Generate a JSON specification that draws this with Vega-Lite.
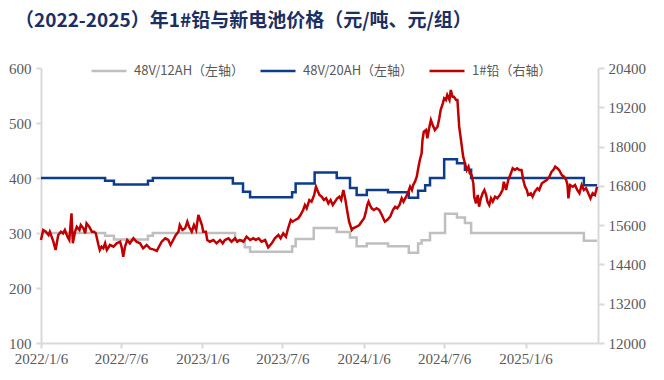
{
  "$schema": "https://vega.github.io/schema/vega-lite/v6.json",
  "width": 557,
  "height": 275,
  "autosize": {"type": "none"},
  "padding": {"left": 41, "top": 68, "right": 66, "bottom": 37},
  "background": "white",
  "title": {
    "text": "（2022-2025）年1#铅与新电池价格（元/吨、元/组）",
    "anchor": "start",
    "frame": "group",
    "dx": -26,
    "offset": 21,
    "font": "Noto Sans CJK SC",
    "fontSize": 19,
    "fontWeight": "bold",
    "color": "#1B2F63"
  },
  "config": {
    "view": {"stroke": null},
    "axis": {
      "grid": false,
      "domainColor": "#D9D9D9",
      "domainWidth": 2,
      "tickColor": "#D9D9D9",
      "tickWidth": 2,
      "labelFont": "Liberation Serif",
      "labelFontSize": 15,
      "labelColor": "#595959",
      "title": null
    }
  },
  "datasets": {
    "battery": [
      {"date": "2022-01-06", "series": "48V/12AH（左轴）", "price": 300},
      {"date": "2022-05-31", "series": "48V/12AH（左轴）", "price": 295},
      {"date": "2022-06-20", "series": "48V/12AH（左轴）", "price": 288},
      {"date": "2022-09-05", "series": "48V/12AH（左轴）", "price": 295},
      {"date": "2022-09-16", "series": "48V/12AH（左轴）", "price": 300},
      {"date": "2023-03-21", "series": "48V/12AH（左轴）", "price": 287},
      {"date": "2023-04-12", "series": "48V/12AH（左轴）", "price": 274},
      {"date": "2023-04-24", "series": "48V/12AH（左轴）", "price": 266},
      {"date": "2023-07-28", "series": "48V/12AH（左轴）", "price": 276},
      {"date": "2023-08-05", "series": "48V/12AH（左轴）", "price": 289},
      {"date": "2023-09-15", "series": "48V/12AH（左轴）", "price": 309},
      {"date": "2023-11-06", "series": "48V/12AH（左轴）", "price": 302},
      {"date": "2023-12-06", "series": "48V/12AH（左轴）", "price": 292},
      {"date": "2023-12-21", "series": "48V/12AH（左轴）", "price": 276},
      {"date": "2024-01-13", "series": "48V/12AH（左轴）", "price": 281},
      {"date": "2024-03-01", "series": "48V/12AH（左轴）", "price": 276},
      {"date": "2024-04-17", "series": "48V/12AH（左轴）", "price": 264},
      {"date": "2024-05-08", "series": "48V/12AH（左轴）", "price": 281},
      {"date": "2024-05-16", "series": "48V/12AH（左轴）", "price": 287},
      {"date": "2024-06-04", "series": "48V/12AH（左轴）", "price": 300},
      {"date": "2024-07-08", "series": "48V/12AH（左轴）", "price": 335},
      {"date": "2024-08-04", "series": "48V/12AH（左轴）", "price": 328},
      {"date": "2024-08-22", "series": "48V/12AH（左轴）", "price": 318},
      {"date": "2024-09-05", "series": "48V/12AH（左轴）", "price": 300},
      {"date": "2025-05-18", "series": "48V/12AH（左轴）", "price": 286},
      {"date": "2025-06-17", "series": "48V/12AH（左轴）", "price": 286},
      {"date": "2022-01-06", "series": "48V/20AH（左轴）", "price": 400},
      {"date": "2022-05-31", "series": "48V/20AH（左轴）", "price": 395},
      {"date": "2022-06-20", "series": "48V/20AH（左轴）", "price": 388},
      {"date": "2022-09-05", "series": "48V/20AH（左轴）", "price": 395},
      {"date": "2022-09-16", "series": "48V/20AH（左轴）", "price": 400},
      {"date": "2023-03-16", "series": "48V/20AH（左轴）", "price": 390},
      {"date": "2023-04-08", "series": "48V/20AH（左轴）", "price": 375},
      {"date": "2023-04-24", "series": "48V/20AH（左轴）", "price": 365},
      {"date": "2023-07-28", "series": "48V/20AH（左轴）", "price": 374},
      {"date": "2023-08-05", "series": "48V/20AH（左轴）", "price": 390},
      {"date": "2023-09-17", "series": "48V/20AH（左轴）", "price": 410},
      {"date": "2023-11-06", "series": "48V/20AH（左轴）", "price": 400},
      {"date": "2023-12-06", "series": "48V/20AH（左轴）", "price": 382},
      {"date": "2023-12-21", "series": "48V/20AH（左轴）", "price": 369},
      {"date": "2024-01-13", "series": "48V/20AH（左轴）", "price": 378},
      {"date": "2024-03-01", "series": "48V/20AH（左轴）", "price": 374},
      {"date": "2024-04-17", "series": "48V/20AH（左轴）", "price": 364},
      {"date": "2024-05-08", "series": "48V/20AH（左轴）", "price": 377},
      {"date": "2024-05-24", "series": "48V/20AH（左轴）", "price": 387},
      {"date": "2024-06-04", "series": "48V/20AH（左轴）", "price": 400},
      {"date": "2024-07-06", "series": "48V/20AH（左轴）", "price": 434},
      {"date": "2024-08-04", "series": "48V/20AH（左轴）", "price": 427},
      {"date": "2024-08-22", "series": "48V/20AH（左轴）", "price": 415},
      {"date": "2024-09-05", "series": "48V/20AH（左轴）", "price": 400},
      {"date": "2025-05-18", "series": "48V/20AH（左轴）", "price": 387},
      {"date": "2025-06-17", "series": "48V/20AH（左轴）", "price": 387}
    ],
    "lead": [
      {"date": "2022-01-06", "price": 15146}, {"date": "2022-01-11", "price": 15452}, {"date": "2022-01-17", "price": 15400},
      {"date": "2022-01-23", "price": 15299}, {"date": "2022-01-26", "price": 15400}, {"date": "2022-02-03", "price": 15094},
      {"date": "2022-02-08", "price": 14841}, {"date": "2022-02-14", "price": 15299}, {"date": "2022-02-20", "price": 15400},
      {"date": "2022-02-25", "price": 15351}, {"date": "2022-03-01", "price": 15452}, {"date": "2022-03-07", "price": 15247},
      {"date": "2022-03-11", "price": 15146}, {"date": "2022-03-16", "price": 15962}, {"date": "2022-03-19", "price": 15045},
      {"date": "2022-03-24", "price": 15400}, {"date": "2022-03-28", "price": 15552}, {"date": "2022-04-03", "price": 15452},
      {"date": "2022-04-06", "price": 15604}, {"date": "2022-04-12", "price": 15504}, {"date": "2022-04-16", "price": 15351},
      {"date": "2022-04-19", "price": 15656}, {"date": "2022-04-25", "price": 15552}, {"date": "2022-05-01", "price": 15400},
      {"date": "2022-05-06", "price": 15400}, {"date": "2022-05-10", "price": 15351}, {"date": "2022-05-16", "price": 14994},
      {"date": "2022-05-19", "price": 14841}, {"date": "2022-05-23", "price": 14942}, {"date": "2022-05-27", "price": 14893},
      {"date": "2022-05-31", "price": 15045}, {"date": "2022-06-04", "price": 14841}, {"date": "2022-06-11", "price": 14994},
      {"date": "2022-06-19", "price": 14942}, {"date": "2022-06-26", "price": 15045}, {"date": "2022-07-04", "price": 15094},
      {"date": "2022-07-08", "price": 14893}, {"date": "2022-07-11", "price": 14636}, {"date": "2022-07-15", "price": 14942},
      {"date": "2022-07-20", "price": 15146}, {"date": "2022-07-26", "price": 15045}, {"date": "2022-08-03", "price": 15198},
      {"date": "2022-08-10", "price": 15094}, {"date": "2022-08-18", "price": 15045}, {"date": "2022-08-25", "price": 14893},
      {"date": "2022-09-02", "price": 14994}, {"date": "2022-09-10", "price": 14880}, {"date": "2022-09-17", "price": 14860},
      {"date": "2022-09-25", "price": 14815}, {"date": "2022-09-28", "price": 14893}, {"date": "2022-10-06", "price": 15094},
      {"date": "2022-10-14", "price": 15198}, {"date": "2022-10-21", "price": 15146}, {"date": "2022-10-26", "price": 14994},
      {"date": "2022-11-01", "price": 15146}, {"date": "2022-11-07", "price": 15299}, {"date": "2022-11-13", "price": 15400},
      {"date": "2022-11-16", "price": 15604}, {"date": "2022-11-22", "price": 15452}, {"date": "2022-11-28", "price": 15504},
      {"date": "2022-12-03", "price": 15705}, {"date": "2022-12-07", "price": 15552}, {"date": "2022-12-13", "price": 15400},
      {"date": "2022-12-18", "price": 15604}, {"date": "2022-12-23", "price": 15452}, {"date": "2022-12-28", "price": 15910},
      {"date": "2023-01-01", "price": 15757}, {"date": "2023-01-05", "price": 15604}, {"date": "2023-01-08", "price": 15400},
      {"date": "2023-01-14", "price": 15400}, {"date": "2023-01-17", "price": 15146}, {"date": "2023-01-23", "price": 15094},
      {"date": "2023-01-31", "price": 15146}, {"date": "2023-02-07", "price": 15045}, {"date": "2023-02-15", "price": 15146},
      {"date": "2023-02-21", "price": 15045}, {"date": "2023-02-26", "price": 15146}, {"date": "2023-03-06", "price": 15198},
      {"date": "2023-03-13", "price": 15094}, {"date": "2023-03-21", "price": 15198}, {"date": "2023-03-26", "price": 15094},
      {"date": "2023-04-01", "price": 15146}, {"date": "2023-04-09", "price": 15094}, {"date": "2023-04-16", "price": 15247},
      {"date": "2023-04-24", "price": 15146}, {"date": "2023-05-01", "price": 15198}, {"date": "2023-05-07", "price": 15146},
      {"date": "2023-05-13", "price": 15198}, {"date": "2023-05-20", "price": 15094}, {"date": "2023-05-28", "price": 15146},
      {"date": "2023-06-04", "price": 14920}, {"date": "2023-06-12", "price": 15045}, {"date": "2023-06-19", "price": 15198},
      {"date": "2023-06-27", "price": 15299}, {"date": "2023-07-02", "price": 15198}, {"date": "2023-07-08", "price": 15351},
      {"date": "2023-07-14", "price": 15247}, {"date": "2023-07-19", "price": 15504}, {"date": "2023-07-25", "price": 15757},
      {"date": "2023-07-29", "price": 15705}, {"date": "2023-08-04", "price": 15757}, {"date": "2023-08-11", "price": 15809},
      {"date": "2023-08-16", "price": 15910}, {"date": "2023-08-22", "price": 16063}, {"date": "2023-08-26", "price": 16215},
      {"date": "2023-08-30", "price": 16114}, {"date": "2023-09-05", "price": 16368}, {"date": "2023-09-10", "price": 16316},
      {"date": "2023-09-16", "price": 16521}, {"date": "2023-09-20", "price": 16774}, {"date": "2023-09-23", "price": 16673},
      {"date": "2023-09-28", "price": 16521}, {"date": "2023-10-03", "price": 16469}, {"date": "2023-10-08", "price": 16368},
      {"date": "2023-10-13", "price": 16420}, {"date": "2023-10-18", "price": 16267}, {"date": "2023-10-23", "price": 16368},
      {"date": "2023-10-28", "price": 16215}, {"date": "2023-11-02", "price": 16316}, {"date": "2023-11-07", "price": 16420},
      {"date": "2023-11-12", "price": 16469}, {"date": "2023-11-16", "price": 16368}, {"date": "2023-11-21", "price": 16673},
      {"date": "2023-11-25", "price": 16420}, {"date": "2023-11-30", "price": 16011}, {"date": "2023-12-04", "price": 15705},
      {"date": "2023-12-10", "price": 15452}, {"date": "2023-12-13", "price": 15504}, {"date": "2023-12-21", "price": 15552},
      {"date": "2023-12-27", "price": 15604}, {"date": "2024-01-01", "price": 15705}, {"date": "2024-01-07", "price": 15809},
      {"date": "2024-01-11", "price": 16011}, {"date": "2024-01-14", "price": 16215}, {"date": "2024-01-17", "price": 16316},
      {"date": "2024-01-20", "price": 16215}, {"date": "2024-01-24", "price": 16114}, {"date": "2024-01-29", "price": 16063},
      {"date": "2024-02-04", "price": 16114}, {"date": "2024-02-10", "price": 16063}, {"date": "2024-02-16", "price": 15910},
      {"date": "2024-02-21", "price": 15757}, {"date": "2024-02-23", "price": 15705}, {"date": "2024-02-28", "price": 15757},
      {"date": "2024-03-06", "price": 15859}, {"date": "2024-03-12", "price": 16063}, {"date": "2024-03-17", "price": 16163},
      {"date": "2024-03-22", "price": 16114}, {"date": "2024-03-27", "price": 16215}, {"date": "2024-04-01", "price": 16420},
      {"date": "2024-04-05", "price": 16316}, {"date": "2024-04-11", "price": 16469}, {"date": "2024-04-16", "price": 16621},
      {"date": "2024-04-20", "price": 16774}, {"date": "2024-04-24", "price": 16673}, {"date": "2024-04-27", "price": 16826},
      {"date": "2024-05-01", "price": 16927}, {"date": "2024-05-05", "price": 17080}, {"date": "2024-05-09", "price": 17385},
      {"date": "2024-05-12", "price": 17590}, {"date": "2024-05-16", "price": 17794}, {"date": "2024-05-18", "price": 18201},
      {"date": "2024-05-21", "price": 18454}, {"date": "2024-05-26", "price": 18506}, {"date": "2024-05-29", "price": 18253},
      {"date": "2024-06-02", "price": 18558}, {"date": "2024-06-06", "price": 18812}, {"date": "2024-06-10", "price": 18659},
      {"date": "2024-06-15", "price": 18506}, {"date": "2024-06-21", "price": 18607}, {"date": "2024-06-25", "price": 18863},
      {"date": "2024-06-28", "price": 19117}, {"date": "2024-07-03", "price": 19322}, {"date": "2024-07-06", "price": 19474},
      {"date": "2024-07-10", "price": 19422}, {"date": "2024-07-13", "price": 19575}, {"date": "2024-07-18", "price": 19422},
      {"date": "2024-07-21", "price": 19728}, {"date": "2024-07-25", "price": 19523}, {"date": "2024-07-28", "price": 19523},
      {"date": "2024-08-02", "price": 19422}, {"date": "2024-08-05", "price": 19422}, {"date": "2024-08-07", "price": 19016},
      {"date": "2024-08-09", "price": 18607}, {"date": "2024-08-12", "price": 18302}, {"date": "2024-08-15", "price": 17996},
      {"date": "2024-08-18", "price": 17691}, {"date": "2024-08-22", "price": 17489}, {"date": "2024-08-26", "price": 17284},
      {"date": "2024-08-30", "price": 17385}, {"date": "2024-09-02", "price": 17183}, {"date": "2024-09-06", "price": 17132},
      {"date": "2024-09-10", "price": 16878}, {"date": "2024-09-12", "price": 16469}, {"date": "2024-09-16", "price": 16267},
      {"date": "2024-09-20", "price": 16521}, {"date": "2024-09-23", "price": 16163}, {"date": "2024-09-27", "price": 16420},
      {"date": "2024-10-01", "price": 16573}, {"date": "2024-10-05", "price": 16673}, {"date": "2024-10-09", "price": 16521},
      {"date": "2024-10-12", "price": 16316}, {"date": "2024-10-16", "price": 16215}, {"date": "2024-10-20", "price": 16420},
      {"date": "2024-10-24", "price": 16316}, {"date": "2024-10-29", "price": 16469}, {"date": "2024-11-03", "price": 16420},
      {"date": "2024-11-09", "price": 16521}, {"date": "2024-11-15", "price": 16673}, {"date": "2024-11-18", "price": 16927},
      {"date": "2024-11-23", "price": 16673}, {"date": "2024-11-28", "price": 16979}, {"date": "2024-12-04", "price": 17183},
      {"date": "2024-12-08", "price": 17336}, {"date": "2024-12-13", "price": 17284}, {"date": "2024-12-18", "price": 17336},
      {"date": "2024-12-23", "price": 17284}, {"date": "2024-12-28", "price": 17284}, {"date": "2025-01-01", "price": 16979},
      {"date": "2025-01-05", "price": 16774}, {"date": "2025-01-09", "price": 16673}, {"date": "2025-01-12", "price": 16521},
      {"date": "2025-01-18", "price": 16573}, {"date": "2025-01-22", "price": 16469}, {"date": "2025-01-27", "price": 16621},
      {"date": "2025-02-02", "price": 16725}, {"date": "2025-02-06", "price": 16673}, {"date": "2025-02-12", "price": 16878},
      {"date": "2025-02-17", "price": 16927}, {"date": "2025-02-23", "price": 16979}, {"date": "2025-03-01", "price": 17080},
      {"date": "2025-03-06", "price": 17232}, {"date": "2025-03-10", "price": 17284}, {"date": "2025-03-14", "price": 17385},
      {"date": "2025-03-19", "price": 17336}, {"date": "2025-03-23", "price": 17284}, {"date": "2025-03-29", "price": 17132},
      {"date": "2025-04-03", "price": 17080}, {"date": "2025-04-08", "price": 16979}, {"date": "2025-04-11", "price": 16826},
      {"date": "2025-04-13", "price": 16420}, {"date": "2025-04-17", "price": 16826}, {"date": "2025-04-23", "price": 16774},
      {"date": "2025-04-28", "price": 16826}, {"date": "2025-05-03", "price": 16673}, {"date": "2025-05-08", "price": 16573},
      {"date": "2025-05-13", "price": 16826}, {"date": "2025-05-18", "price": 16673}, {"date": "2025-05-23", "price": 16725},
      {"date": "2025-05-28", "price": 16573}, {"date": "2025-06-02", "price": 16420}, {"date": "2025-06-07", "price": 16573},
      {"date": "2025-06-12", "price": 16521}, {"date": "2025-06-17", "price": 16774}
    ]
  },
  "layer": [
    {
      "data": {"name": "battery"},
      "mark": {"type": "line", "interpolate": "step-after", "strokeWidth": 2.5},
      "encoding": {
        "x": {
          "field": "date",
          "type": "temporal",
          "scale": {
            "type": "utc",
            "domain": [
              {"year": 2022, "month": 1, "date": 6, "utc": true},
              {"year": 2025, "month": 6, "date": 19, "utc": true}
            ],
            "nice": false
          },
          "axis": {
            "values": [
              {"year": 2022, "month": 1, "date": 6, "utc": true},
              {"year": 2022, "month": 7, "date": 6, "utc": true},
              {"year": 2023, "month": 1, "date": 6, "utc": true},
              {"year": 2023, "month": 7, "date": 6, "utc": true},
              {"year": 2024, "month": 1, "date": 6, "utc": true},
              {"year": 2024, "month": 7, "date": 6, "utc": true},
              {"year": 2025, "month": 1, "date": 6, "utc": true}
            ],
            "format": "%Y/%-m/%-d",
            "labelFont": "Liberation Serif",
            "labelFontSize": 15,
            "tickSize": 5,
            "labelPadding": 3,
            "labelOverlap": false,
            "labelFlush": false
          }
        },
        "y": {
          "field": "price",
          "type": "quantitative",
          "scale": {"domain": [100, 600], "nice": false, "zero": false},
          "axis": {"orient": "left", "values": [100, 200, 300, 400, 500, 600], "format": "d", "labelFont": "Liberation Serif", "labelFontSize": 15, "tickSize": 5, "labelPadding": 5}
        },
        "color": {
          "field": "series",
          "type": "nominal",
          "scale": {
            "domain": ["48V/12AH（左轴）", "48V/20AH（左轴）", "1#铅（右轴）"],
            "range": ["#BFBFBF", "#0C3C8A", "#C00000"]
          },
          "legend": {
            "title": null,
            "orient": "none",
            "legendX": 49,
            "legendY": -16,
            "direction": "horizontal",
            "symbolType": "stroke",
            "symbolSize": 1225,
            "symbolStrokeWidth": 2.5,
            "labelFont": "Noto Sans CJK SC",
            "labelFontSize": 13,
            "labelColor": "#595959",
            "labelOffset": 6,
            "columnPadding": 10,
            "labelLimit": 300
          }
        }
      }
    },
    {
      "data": {"name": "lead"},
      "mark": {"type": "line", "strokeWidth": 2.5},
      "encoding": {
        "x": {"field": "date", "type": "temporal"},
        "y": {
          "field": "price",
          "type": "quantitative",
          "scale": {"domain": [12000, 20400], "nice": false, "zero": false},
          "axis": {"orient": "right", "values": [12000, 13200, 14400, 15600, 16800, 18000, 19200, 20400], "format": "d", "labelFont": "Liberation Serif", "labelFontSize": 15, "tickSize": 6, "labelPadding": 4}
        },
        "color": {"datum": "1#铅（右轴）", "type": "nominal"}
      }
    }
  ],
  "resolve": {"scale": {"y": "independent"}}
}
